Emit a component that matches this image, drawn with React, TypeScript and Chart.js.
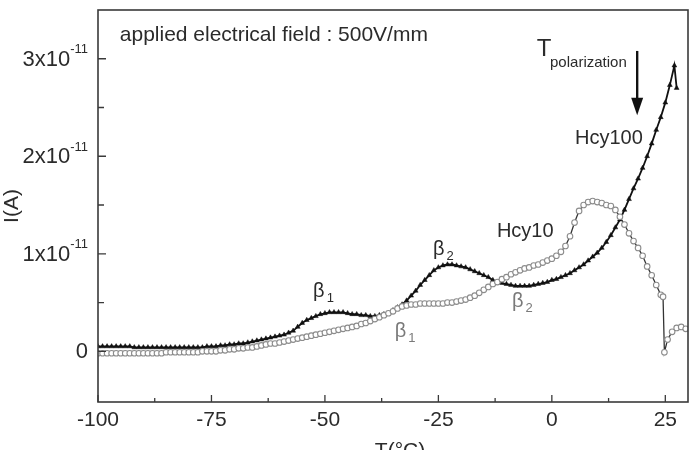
import React, { useEffect, useRef } from "react";
import { Chart, registerables } from "chart.js";

Chart.register(...registerables);

// Temperature sweep (°C), 1 °C steps
const T_START = -100;
const TEMPS_100 = Array.from({ length: 128 }, (_, i) => T_START + i); // -100 … 27
const TEMPS_10 = Array.from({ length: 125 }, (_, i) => T_START + i); // -100 … 24

// Hcy100 current, in units of 1e-11 A
const HCY100 = [
  0.05, 0.05, 0.05, 0.05, 0.05, 0.05, 0.05, 0.05, 0.04, 0.04,
  0.04, 0.04, 0.04, 0.04, 0.04, 0.04, 0.04, 0.04, 0.04, 0.04,
  0.04, 0.04, 0.04, 0.04, 0.05, 0.05, 0.05, 0.06, 0.06, 0.07,
  0.07, 0.08, 0.08, 0.09, 0.10, 0.11, 0.12, 0.13, 0.14, 0.15,
  0.16, 0.17, 0.19, 0.21, 0.25, 0.29, 0.32, 0.34, 0.36, 0.38,
  0.39, 0.40, 0.40, 0.40, 0.40, 0.39, 0.38, 0.38, 0.37, 0.37,
  0.36, 0.36, 0.37, 0.38, 0.39, 0.42, 0.45, 0.48, 0.52, 0.57,
  0.62, 0.68, 0.73, 0.78, 0.83, 0.86, 0.88, 0.89, 0.89, 0.88,
  0.87, 0.86, 0.84, 0.82, 0.80, 0.78, 0.76, 0.73, 0.71, 0.70,
  0.69, 0.68, 0.67, 0.67, 0.67, 0.67, 0.68, 0.69, 0.70, 0.71,
  0.73, 0.74, 0.76, 0.78, 0.80, 0.83, 0.86, 0.89, 0.93, 0.97,
  1.01, 1.06, 1.12, 1.19, 1.27, 1.35, 1.45, 1.56, 1.67, 1.77,
  1.88, 2.00, 2.13, 2.27, 2.40, 2.55, 2.73, 2.93,
];
const HCY100_END_T = [27.5];
const HCY100_END_I = [2.7];

// Hcy10 current, in units of 1e-11 A
const HCY10 = [
  -0.02, -0.02, -0.02, -0.02, -0.02, -0.02, -0.02, -0.02, -0.02, -0.02,
  -0.02, -0.02, -0.02, -0.02, -0.02, -0.01, -0.01, -0.01, -0.01, -0.01,
  -0.01, -0.01, -0.01, 0.0, 0.0, 0.0, 0.0, 0.01, 0.01, 0.02,
  0.02, 0.03, 0.03, 0.04, 0.04, 0.05, 0.06, 0.07, 0.08, 0.08,
  0.09, 0.10, 0.11, 0.12, 0.13, 0.14, 0.15, 0.16, 0.17, 0.18,
  0.19, 0.20, 0.21, 0.22, 0.23, 0.24, 0.25, 0.26, 0.28, 0.29,
  0.31, 0.33, 0.35, 0.37, 0.39, 0.41, 0.44, 0.46, 0.47, 0.48,
  0.48, 0.49, 0.49, 0.49, 0.49, 0.49, 0.49, 0.50, 0.50, 0.51,
  0.52, 0.53, 0.55, 0.57, 0.60, 0.63, 0.66, 0.69, 0.71, 0.74,
  0.76, 0.79, 0.81, 0.83, 0.85, 0.86, 0.88, 0.89, 0.91, 0.93,
  0.95, 0.98, 1.02, 1.08, 1.18, 1.32, 1.44, 1.50, 1.53, 1.54,
  1.53, 1.52, 1.50, 1.49, 1.45, 1.38, 1.30, 1.21, 1.13, 1.06,
  0.98, 0.87, 0.78, 0.68, 0.58,
];
const HCY10_TAIL_T = [24.5, 24.8, 25.5, 26.5, 27.5, 28.5, 29.5];
const HCY10_TAIL_I = [0.56, -0.01, 0.12, 0.2, 0.24, 0.25, 0.23];

// Axes
const X_MIN = -100;
const X_MAX = 30;
const Y_MIN = -0.52;
const Y_MAX = 3.5;
const X_MAJOR = [-100, -75, -50, -25, 0, 25];
const X_MINOR = [-87.5, -62.5, -37.5, -12.5, 12.5];
const Y_MAJOR = [0, 1, 2, 3];
const Y_MINOR = [0.5, 1.5, 2.5];
const Y_TICK_TEXT = ["0", "1x10", "2x10", "3x10"];
const Y_TICK_EXP = ["", "-11", "-11", "-11"];

const FONT = "'Liberation Sans', Arial, sans-serif";
const INK = "#2b2b2b";
const GREY_INK = "#7a7a7a";

const overlay = {
  id: "overlay",
  afterDraw(chart: any) {
    const { ctx, chartArea: a, scales } = chart;
    const xs = scales.x;
    const ys = scales.y;
    const px = (v: number) => xs.getPixelForValue(v);
    const py = (v: number) => ys.getPixelForValue(v);
    ctx.save();

    // frame
    ctx.strokeStyle = "#3a3a3a";
    ctx.lineWidth = 1.6;
    ctx.strokeRect(a.left, a.top, a.right - a.left, a.bottom - a.top);

    // inward ticks
    ctx.lineWidth = 1.3;
    ctx.beginPath();
    X_MAJOR.forEach((v) => {
      ctx.moveTo(px(v), a.bottom);
      ctx.lineTo(px(v), a.bottom - 7);
    });
    X_MINOR.forEach((v) => {
      ctx.moveTo(px(v), a.bottom);
      ctx.lineTo(px(v), a.bottom - 4);
    });
    Y_MAJOR.forEach((v) => {
      ctx.moveTo(a.left, py(v));
      ctx.lineTo(a.left + 8, py(v));
    });
    Y_MINOR.forEach((v) => {
      ctx.moveTo(a.left, py(v));
      ctx.lineTo(a.left + 6, py(v));
    });
    ctx.stroke();

    // x tick labels
    ctx.fillStyle = INK;
    ctx.font = `21px ${FONT}`;
    ctx.textAlign = "center";
    ctx.textBaseline = "middle";
    X_MAJOR.forEach((v) => ctx.fillText(String(v), px(v), a.bottom + 18));

    // y tick labels with superscript exponent
    const right = a.left - 10;
    Y_MAJOR.forEach((v, i) => {
      const y = py(v);
      ctx.textAlign = "right";
      ctx.textBaseline = "middle";
      let w = 0;
      if (Y_TICK_EXP[i]) {
        ctx.font = `13px ${FONT}`;
        w = ctx.measureText(Y_TICK_EXP[i]).width;
        ctx.fillText(Y_TICK_EXP[i], right, y - 9);
      }
      ctx.font = `22px ${FONT}`;
      ctx.fillText(Y_TICK_TEXT[i], right - w, y + 1);
    });

    // axis titles
    ctx.font = `21px ${FONT}`;
    ctx.textAlign = "center";
    ctx.textBaseline = "alphabetic";
    ctx.fillText("T(°C)", (a.left + a.right) / 2 + 7, 457);
    ctx.save();
    ctx.translate(12, (a.top + a.bottom) / 2);
    ctx.rotate(-Math.PI / 2);
    ctx.textBaseline = "middle";
    ctx.fillText("I(A)", 0, 0);
    ctx.restore();

    // annotations
    ctx.textAlign = "left";
    ctx.textBaseline = "middle";
    ctx.font = `21px ${FONT}`;
    ctx.fillText("applied electrical field : 500V/mm", px(-95.2), py(3.24));
    ctx.font = `24px ${FONT}`;
    ctx.fillText("T", px(-3.3), py(3.1));
    ctx.font = `15px ${FONT}`;
    ctx.fillText("polarization", px(-0.4), py(2.96));
    ctx.font = `20px ${FONT}`;
    ctx.fillText("Hcy100", px(5.1), py(2.18));
    ctx.fillText("Hcy10", px(-12.1), py(1.23));

    // polarization arrow
    const ax = px(18.8);
    ctx.strokeStyle = "#111";
    ctx.fillStyle = "#111";
    ctx.lineWidth = 2.4;
    ctx.beginPath();
    ctx.moveTo(ax, py(3.08));
    ctx.lineTo(ax, py(2.55));
    ctx.stroke();
    ctx.beginPath();
    ctx.moveTo(ax - 6, py(2.6));
    ctx.lineTo(ax + 6, py(2.6));
    ctx.lineTo(ax, py(2.42));
    ctx.closePath();
    ctx.fill();

    // relaxation labels
    const beta = (t: number, i: number, sub: string, color: string) => {
      ctx.fillStyle = color;
      ctx.font = `20px ${FONT}`;
      ctx.textBaseline = "middle";
      ctx.fillText("β", px(t), py(i));
      const w = ctx.measureText("β").width;
      ctx.font = `13px ${FONT}`;
      ctx.fillText(sub, px(t) + w + 2, py(i) + 7);
    };
    beta(-52.6, 0.61, "1", INK);
    beta(-26.2, 1.04, "2", INK);
    beta(-34.6, 0.2, "1", GREY_INK);
    beta(-8.8, 0.51, "2", GREY_INK);

    ctx.restore();
  },
};

export default function App() {
  const ref = useRef<HTMLCanvasElement | null>(null);

  useEffect(() => {
    if (!ref.current) return;
    const hcy100 = TEMPS_100.map((t, i) => ({ x: t, y: HCY100[i] })).concat(
      HCY100_END_T.map((t, i) => ({ x: t, y: HCY100_END_I[i] }))
    );
    const hcy10 = TEMPS_10.map((t, i) => ({ x: t, y: HCY10[i] })).concat(
      HCY10_TAIL_T.map((t, i) => ({ x: t, y: HCY10_TAIL_I[i] }))
    );
    const chart = new Chart(ref.current, {
      type: "line",
      data: {
        datasets: [
          {
            label: "Hcy10",
            data: hcy10,
            borderColor: "#333",
            borderWidth: 1.3,
            pointStyle: "circle",
            pointRadius: 2.8,
            pointBackgroundColor: "#fff",
            pointBorderColor: "#8c8c8c",
            pointBorderWidth: 1.1,
            tension: 0,
          },
          {
            label: "Hcy100",
            data: hcy100,
            borderColor: "#111",
            borderWidth: 1.8,
            pointStyle: "triangle",
            pointRadius: 2.8,
            pointBackgroundColor: "#111",
            pointBorderColor: "#111",
            pointBorderWidth: 0.5,
            tension: 0,
          },
        ],
      },
      options: {
        animation: false,
        responsive: false,
        devicePixelRatio: 1,
        layout: { padding: { left: 98, right: 6, top: 10, bottom: 48 } },
        plugins: { legend: { display: false }, tooltip: { enabled: false } },
        scales: {
          x: { type: "linear", min: X_MIN, max: X_MAX, display: false },
          y: { type: "linear", min: Y_MIN, max: Y_MAX, display: false },
        },
      },
      plugins: [overlay],
    });
    return () => chart.destroy();
  }, []);

  return (
    <div style={{ position: "fixed", left: 0, top: 0, width: 694, height: 450, background: "#fff" }}>
      <canvas ref={ref} width={694} height={450} />
    </div>
  );
}
